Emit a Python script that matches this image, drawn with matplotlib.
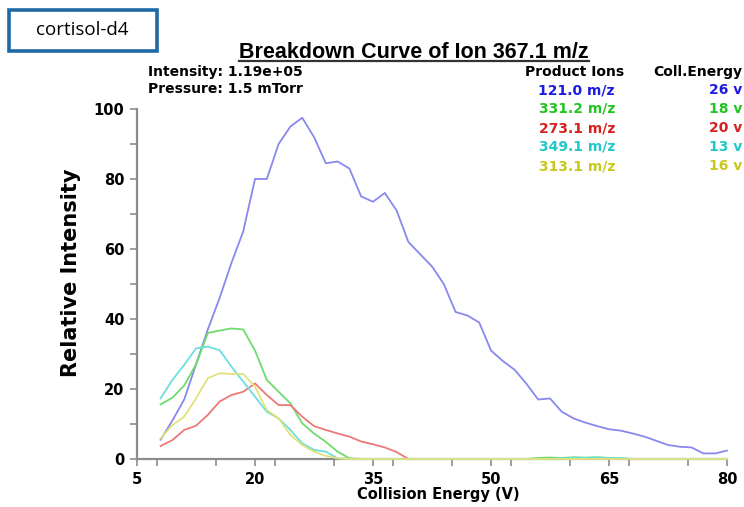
import matplotlib
matplotlib.use("Agg")
import matplotlib.pyplot as plt
from matplotlib.patches import Rectangle
from matplotlib.lines import Line2D
from matplotlib.ticker import MultipleLocator, FixedLocator

plt.rcParams['font.family'] = ['Liberation Sans', 'DejaVu Sans']

energy = [8, 9.5, 11, 12.5, 14, 15.5, 17, 18.5, 20, 21.5, 23, 24.5, 26, 27.5, 29,
          30.5, 32, 33.5, 35, 36.5, 38, 39.5, 41, 42.5, 44, 45.5, 47, 48.5, 50,
          51.5, 53, 54.5, 56, 57.5, 59, 60.5, 62, 63.5, 65, 66.5, 68, 69.5, 71,
          72.5, 74, 75.5, 77, 78.5, 80]

ion_121 = [5.5, 11, 17, 27, 37, 46, 56, 65, 80, 80, 90, 95, 97.5, 92, 84.5, 85, 83,
           75, 73.5, 76, 71, 62, 58.5, 55, 50, 42, 41, 39, 31, 28, 25.5, 21.5, 17,
           17.3, 13.5, 11.6, 10.4, 9.4, 8.5, 8.1, 7.3, 6.4, 5.2, 4, 3.5, 3.3, 1.6,
           1.6, 2.4]
ion_331 = [15.6, 17.5, 21, 27, 36, 36.7, 37.3, 37, 31, 22.6, 19.2, 15.9, 10.2, 7.3,
           4.9, 2.1, 0.2, 0, 0, 0, 0, 0, 0, 0, 0, 0, 0, 0, 0, 0, 0, 0, 0.3, 0.4,
           0.3, 0.5, 0.4, 0.5, 0.3, 0.2, 0, 0, 0, 0, 0, 0, 0, 0, 0]
ion_273 = [3.7, 5.4, 8.3, 9.5, 12.6, 16.4, 18.3, 19.2, 21.6, 18.3, 15.4, 15.4, 12.1,
           9.4, 8.3, 7.3, 6.4, 5, 4.2, 3.3, 2, 0, 0, 0, 0, 0, 0, 0, 0, 0, 0, 0, 0,
           0, 0, 0, 0, 0, 0, 0, 0, 0, 0, 0, 0, 0, 0, 0, 0]
ion_349 = [17.3, 22.6, 26.9, 31.6, 32.1, 31.1, 26.4, 22.1, 17.8, 13.5, 11.6, 8.3,
           4.5, 2.6, 2.1, 0.2, 0, 0, 0, 0, 0, 0, 0, 0, 0, 0, 0, 0, 0, 0, 0, 0, 0,
           0, 0.2, 0.3, 0.3, 0.4, 0.3, 0.2, 0, 0, 0, 0, 0, 0, 0, 0, 0]
ion_313 = [5.9, 9.7, 12.1, 17.3, 23.1, 24.5, 24.3, 24.3, 20.7, 14, 11.6, 6.9, 4,
           2.1, 0.9, 0.2, 0, 0, 0, 0, 0, 0, 0, 0, 0, 0, 0, 0, 0, 0, 0, 0, 0, 0, 0,
           0, 0, 0, 0, 0, 0, 0, 0, 0, 0, 0, 0, 0, 0]

series = [ion_121, ion_331, ion_273, ion_349, ion_313]
product_labels = ["121.0 m/z", "331.2 m/z", "273.1 m/z", "349.1 m/z", "313.1 m/z"]
coll_labels = ["26 v", "18 v", "20 v", "13 v", "16 v"]
line_colors = ["#8888ee", "#6ddc6d", "#ec7878", "#6cdede", "#e2e27a"]
text_colors = ["#1c1ce0", "#22c422", "#d82020", "#22c8c8", "#c8c820"]

x_major = [5, 20, 35, 50, 65, 80]
y_major = [0, 20, 40, 60, 80, 100]

W, H = 744, 507
fig = plt.figure(figsize=(W / 100, H / 100), dpi=100)

DV = ['DejaVu Sans']


def fx(x):
    return x / W


def fy(y):
    return 1 - y / H


ax = fig.add_axes([fx(137), fy(459), fx(727) - fx(137), fy(109) - fy(459)])
for vals, c in zip(series, line_colors):
    ax.plot(energy, vals, color=c, lw=1.3, clip_on=False, zorder=3)

ax.set_xlim(5, 80)
ax.set_ylim(0, 100)
ax.xaxis.set_major_locator(FixedLocator(x_major))
ax.xaxis.set_minor_locator(MultipleLocator(7.5))
ax.yaxis.set_major_locator(FixedLocator(y_major))
ax.yaxis.set_minor_locator(MultipleLocator(10))
for s in ["top", "right"]:
    ax.spines[s].set_visible(False)
for s in ["left", "bottom"]:
    ax.spines[s].set_color("#8c8c8c")
    ax.spines[s].set_linewidth(1.6)
ax.tick_params(which="both", direction="out", length=5, width=1.2,
               color="#8c8c8c")
ax.tick_params(which="major", labelsize=10.5, pad=4)
for lab in ax.get_xticklabels() + ax.get_yticklabels():
    lab.set_fontweight("bold")
    lab.set_family(DV)

ax.set_xlabel("Collision Energy (V)", fontsize=10.5, fontweight="bold", family=DV)
ax.xaxis.set_label_coords((438 - 137) / (727 - 137), -(495 - 459) / (459 - 109))
ax.xaxis.label.set_va("center")
fig.text(fx(71), fy(273), "Relative Intensity", rotation=90, fontsize=15,
         fontweight="bold", family=DV, ha="center", va="center")

# title box
fig.patches.append(Rectangle((fx(9), fy(51)), fx(157) - fx(9), fy(10) - fy(51),
                             transform=fig.transFigure, fill=False,
                             edgecolor="#1f6aa5", lw=2.6))
fig.text(fx(82), fy(30), "cortisol-d4", fontsize=13.5, family="Open Sans",
         ha="center", va="center")

title = fig.text(fx(414), fy(58), "Breakdown Curve of Ion 367.1 m/z", fontsize=15.5,
                 fontweight="bold", ha="center", va="baseline")

fs = 10
fig.text(fx(148), fy(72), "Intensity: 1.19e+05", fontsize=fs, fontweight="bold",
         family=DV, ha="left", va="center")
fig.text(fx(148), fy(89), "Pressure: 1.5 mTorr", fontsize=fs, fontweight="bold",
         family=DV, ha="left", va="center")
fig.text(fx(624), fy(72), "Product Ions", fontsize=fs, fontweight="bold",
         family=DV, ha="right", va="center")
fig.text(fx(742), fy(72), "Coll.Energy", fontsize=fs, fontweight="bold",
         family=DV, ha="right", va="center")
rows_y = [90, 109, 128, 147, 166]
for py, pl, cl, tc in zip(rows_y, product_labels, coll_labels, text_colors):
    fig.text(fx(615), fy(py), pl, fontsize=fs, fontweight="bold", color=tc,
             family=DV, ha="right", va="center")
    fig.text(fx(742), fy(py), cl, fontsize=fs, fontweight="bold", color=tc,
             family=DV, ha="right", va="center")

# underline title
fig.canvas.draw()
bb = title.get_window_extent(fig.canvas.get_renderer())
uy = H - 61
fig.lines.append(Line2D([bb.x0 / W, bb.x1 / W], [uy / H, uy / H],
                        transform=fig.transFigure, color="#333333", lw=1.6))

fig.savefig("out.png", dpi=100)
